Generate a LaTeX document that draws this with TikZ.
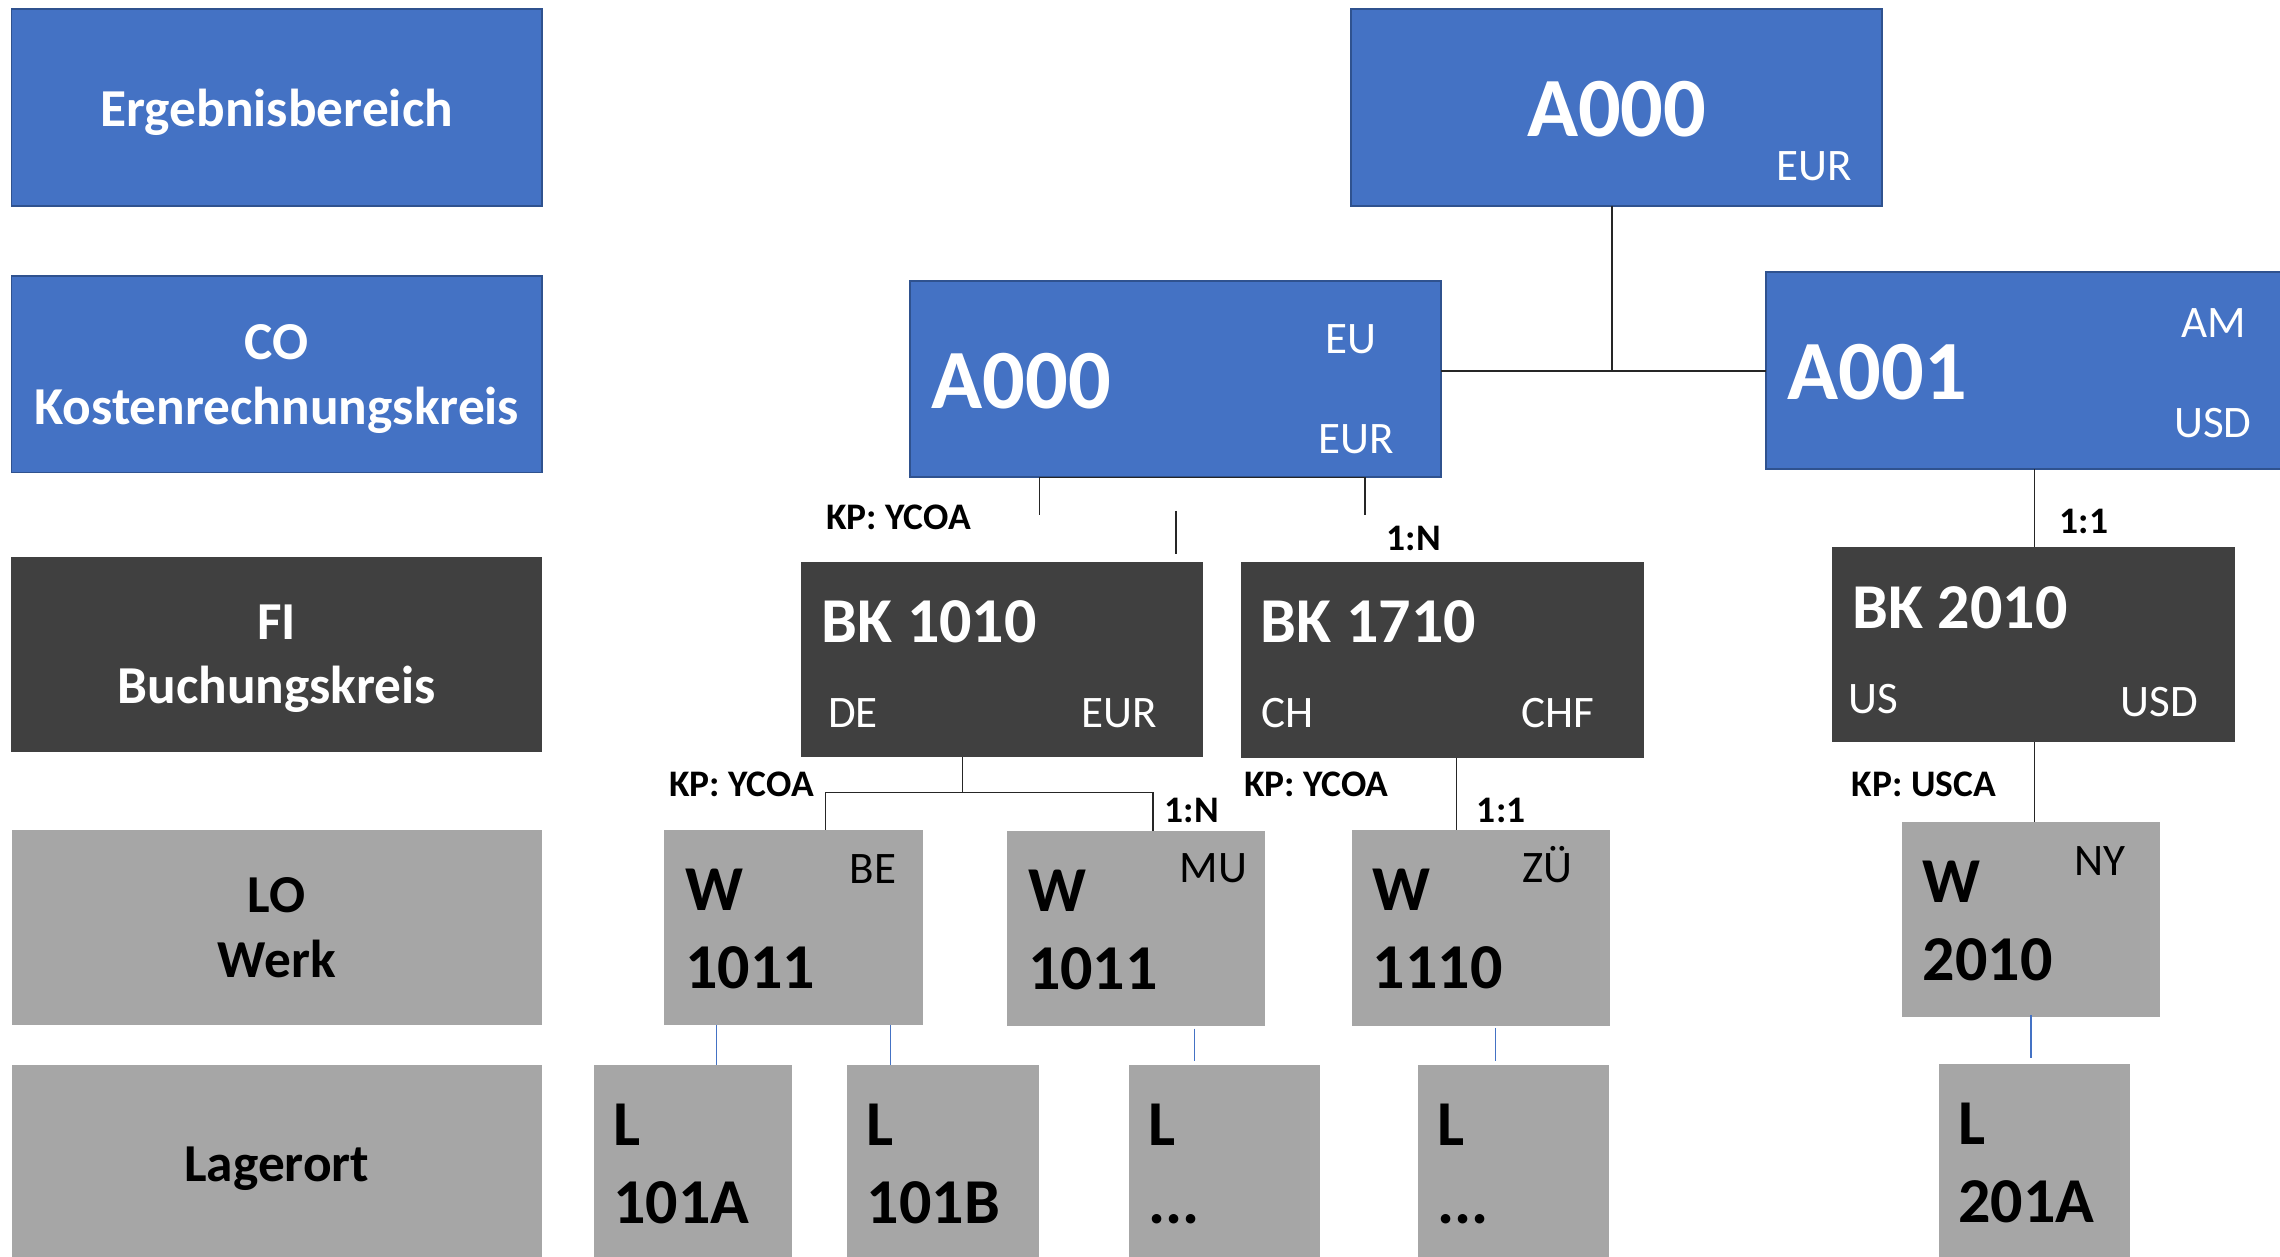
\documentclass[tikz,border=0pt]{standalone}
\usepackage{fontspec}
\setmainfont{Carlito}
\definecolor{cblue}{HTML}{4472C4}
\definecolor{cblueb}{HTML}{2F528F}
\definecolor{cdark}{HTML}{404040}
\definecolor{cgray}{HTML}{A6A6A6}
\tikzset{
  boxbase/.style={rectangle, anchor=north west, inner sep=0pt, outer sep=0pt},
  bluebox/.style={boxbase, draw=cblueb, line width=1.3pt, fill=cblue},
  darkbox/.style={boxbase, fill=cdark},
  graybox/.style={boxbase, fill=cgray},
  conn/.style={draw=black!85, line width=1pt},
  bconn/.style={draw=cblue, line width=0.9pt},
  txt/.style={inner sep=0pt, outer sep=0pt, anchor=base west},
  lbl/.style={inner sep=0pt, outer sep=0pt, anchor=base, font=\fontsize{36.7}{44}\selectfont\bfseries},
  bigtxt/.style={txt, text=white, font=\fontsize{58}{70}\selectfont\bfseries},
  smalltxt/.style={txt, font=\fontsize{31}{37}\selectfont},
  bktxt/.style={txt, font=\fontsize{44}{53}\selectfont\bfseries},
  reltxt/.style={txt, font=\fontsize{25.8}{31}\selectfont\bfseries},
}
\begin{document}
\begin{tikzpicture}[x=1pt,y=-1pt]
\clip (0,0) rectangle (1568.4,864);
\fill[white] (0,0) rectangle (1568.4,864);

% ---- left column ----
\node[bluebox, minimum width=364.9pt, minimum height=135.5pt] (erg) at (7.9,6.2) {};
\node[bluebox, minimum width=364.9pt, minimum height=135pt] (co) at (7.9,190) {};
\node[darkbox, minimum width=364.9pt, minimum height=134.5pt] (fi) at (7.9,383) {};
\node[graybox, minimum width=364.5pt, minimum height=134.6pt] (lo) at (8.3,570.8) {};
\node[graybox, minimum width=364.5pt, minimum height=134.6pt] (lag) at (8.3,732.4) {};

\node[lbl, text=white] (tErg) at (190.4,86.7) {Ergebnisbereich};
\node[lbl, text=white] (tCO1) at (190.4,247.1) {CO};
\node[lbl, text=white] (tCO2) at (190.4,291.7) {Kostenrechnungskreis};
\node[lbl, text=white] (tFI1) at (190.4,439.6) {FI};
\node[lbl, text=white] (tFI2) at (190.4,484.2) {Buchungskreis};
\node[lbl, text=black] (tLO1) at (190.4,627.7) {LO};
\node[lbl, text=black] (tLO2) at (190.4,672.3) {Werk};
\node[lbl, text=black] (tLag) at (190.4,812.7) {Lagerort};

% ---- boxes ----
\node[bluebox, minimum width=364.9pt, minimum height=135.5pt] (topa) at (929.4,6.2) {};
\node[bluebox, minimum width=365.3pt, minimum height=135.3pt] (coa) at (626,193) {};
\node[bluebox, minimum width=365.4pt, minimum height=135.5pt] (cob) at (1214.6,187.3) {};

\node[darkbox, minimum width=276.9pt, minimum height=134.3pt] (bk1) at (550.9,386.5) {};
\node[darkbox, minimum width=277pt, minimum height=134.4pt] (bk2) at (853.6,386.8) {};
\node[darkbox, minimum width=277.4pt, minimum height=134.7pt] (bk3) at (1260.3,376) {};

\node[graybox, minimum width=177.7pt, minimum height=134.6pt] (w1) at (457,570.8) {};
\node[graybox, minimum width=177.6pt, minimum height=134.5pt] (w2) at (692.9,571.5) {};
\node[graybox, minimum width=177.2pt, minimum height=134.6pt] (w3) at (930,571) {};
\node[graybox, minimum width=177.4pt, minimum height=134.6pt] (w4) at (1308.7,565.3) {};

\node[graybox, minimum width=136.1pt, minimum height=135pt] (l1) at (408.5,732.4) {};
\node[graybox, minimum width=131.7pt, minimum height=135pt] (l2) at (582.7,732.4) {};
\node[graybox, minimum width=131.7pt, minimum height=135pt] (l3) at (776.6,732.4) {};
\node[graybox, minimum width=131.2pt, minimum height=135pt] (l4) at (975.4,732.4) {};
\node[graybox, minimum width=132pt, minimum height=135pt] (l5) at (1333.5,731.7) {};

% ---- texts in boxes ----
\node[bigtxt] (tA0) at (1050.5,94) {A000};
\node[smalltxt, text=white] (tA0c) at (1222,124.3) {EUR};
\node[bigtxt] (tA1) at (640.8,280.8) {A000};
\node[smalltxt, text=white] (tA1r) at (912,243.5) {EU};
\node[smalltxt, text=white] (tA1c) at (907.3,311.8) {EUR};
\node[bigtxt] (tA2) at (1229.6,274.6) {A001};
\node[smalltxt, text=white] (tA2r) at (1500.5,232.2) {AM};
\node[smalltxt, text=white] (tA2c) at (1495.7,301) {USD};

\node[bktxt, text=white] (tB1) at (565.3,442) {BK 1010};
\node[smalltxt, text=white] (tB1r) at (569.7,500.4) {DE};
\node[smalltxt, text=white] (tB1c) at (743.9,500.4) {EUR};
\node[bktxt, text=white] (tB2) at (867.4,442.3) {BK 1710};
\node[smalltxt, text=white] (tB2r) at (867.7,500.7) {CH};
\node[smalltxt, text=white] (tB2c) at (1046.5,500.7) {CHF};
\node[bktxt, text=white] (tB3) at (1274.3,432.1) {BK 2010};
\node[smalltxt, text=white] (tB3r) at (1271.5,490.6) {US};
\node[smalltxt, text=white] (tB3c) at (1458.8,492.9) {USD};

\node[bktxt] (tW1a) at (471.3,626.3) {W};
\node[bktxt] (tW1b) at (471.3,679.7) {1011};
\node[smalltxt] (tW1r) at (584.5,607.5) {BE};
\node[bktxt] (tW2a) at (707.2,627) {W};
\node[bktxt] (tW2b) at (707.2,680.4) {1011};
\node[smalltxt] (tW2r) at (811.4,607.3) {MU};
\node[bktxt] (tW3a) at (944.3,626.5) {W};
\node[bktxt] (tW3b) at (944.3,679.9) {1110};
\node[smalltxt] (tW3r) at (1047.2,606.8) {ZÜ};
\node[bktxt] (tW4a) at (1322.8,620.8) {W};
\node[bktxt] (tW4b) at (1322.8,674.2) {2010};
\node[smalltxt] (tW4r) at (1427.1,602.4) {NY};

\node[bktxt] (tL1a) at (422,788.1) {L};
\node[bktxt] (tL1b) at (422,841.6) {101A};
\node[bktxt] (tL2a) at (596.2,788.1) {L};
\node[bktxt] (tL2b) at (596.2,841.6) {101B};
\node[bktxt] (tL3a) at (790.1,788.1) {L};
\node[bktxt] (tL3b) at (790.1,841.6) {...};
\node[bktxt] (tL4a) at (988.9,788.1) {L};
\node[bktxt] (tL4b) at (988.9,841.6) {...};
\node[bktxt] (tL5a) at (1347,787.4) {L};
\node[bktxt] (tL5b) at (1347,840.9) {201A};

% ---- relation labels ----
\node[reltxt] (r1) at (568.5,364.5) {KP: YCOA};
\node[reltxt] (r2) at (954,378.9) {1:N};
\node[reltxt] (r3) at (1417,367.2) {1:1};
\node[reltxt] (r4) at (460.5,548) {KP: YCOA};
\node[reltxt] (r5) at (801.3,566) {1:N};
\node[reltxt] (r6) at (855.8,548) {KP: YCOA};
\node[reltxt] (r7) at (1016,566) {1:1};
\node[reltxt] (r8) at (1273.8,548) {KP: USCA};

% ---- connectors ----
\coordinate (j1) at (1109,255.1);
\draw[conn] (topa.south -| j1) -- (j1);
\draw[conn] (coa.east |- j1) -- (cob.west |- j1);

\coordinate (c1) at (715,354.2);
\coordinate (c2) at (939,354.2);
\draw[conn] (c1) -- (c1 |- coa.south) -- (c2 |- coa.south) -- (c2);
\coordinate (c3) at (808.8,351.4);
\coordinate (c3b) at (808.8,381.2);
\draw[conn] (c3) -- (c3b);

\coordinate (c4) at (1399.5,0);
\draw[conn] (c4 |- cob.south) -- (c4 |- bk3.north);
\draw[conn] (c4 |- bk3.south) -- (c4 |- w4.north);

\coordinate (c5) at (662,545);
\coordinate (c6) at (567.7,545);
\coordinate (c7) at (793,545);
\draw[conn] (c5 |- bk1.south) -- (c5);
\draw[conn] (c6 |- w1.north) -- (c6) -- (c7) -- (c7 |- w2.north);

\coordinate (c8) at (1002,0);
\draw[conn] (c8 |- bk2.south) -- (c8 |- w3.north);

\coordinate (b1) at (492.9,0);
\coordinate (b2) at (612.6,0);
\coordinate (b3) at (821.5,0);
\coordinate (b4) at (1028.5,0);
\coordinate (b5) at (1397.2,0);
\draw[bconn] (b1 |- w1.south) -- (b1 |- l1.north);
\draw[bconn] (b2 |- w1.south) -- (b2 |- l2.north);
\draw[bconn] ([yshift=-1.5pt]b3 |- w2.south) -- ([yshift=2.3pt]b3 |- l3.north);
\draw[bconn] ([yshift=-1.5pt]b4 |- w3.south) -- ([yshift=2.3pt]b4 |- l4.north);
\draw[bconn] ([yshift=1.5pt]b5 |- w4.south) -- ([yshift=3.9pt]b5 |- l5.north);
\end{tikzpicture}
\end{document}
